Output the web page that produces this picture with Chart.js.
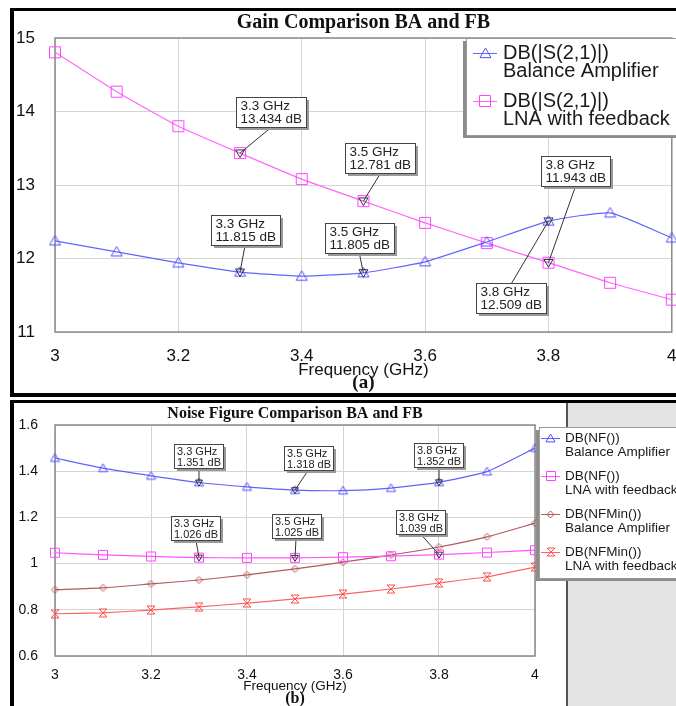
<!DOCTYPE html>
<html lang="en">
<head>
<meta charset="UTF-8">
<title>Gain and Noise Figure Comparison BA and FB</title>
<style>
    body { margin: 0; background: #fff; }
    #page { position: relative; width: 676px; height: 706px; overflow: hidden; background: #fff; }
    canvas { position: absolute; left: 0; }
    #gainChart { top: 0; }
    #nfChart { top: 400px; }
    .frame { position: absolute; border: 0 solid #000; pointer-events: none; }
    #frameA { left: 10px; top: 8px; width: 700px; height: 382px; border-width: 3px 0 4px 4px; }
    #frameB { left: 10px; top: 400px; width: 700px; height: 320px; border-width: 3px 0 0 4px; }
</style>
<script src="https://cdn.jsdelivr.net/npm/chart.js"></script>
</head>
<body>
<div id="page">
    <canvas id="gainChart" width="676" height="398"></canvas>
    <canvas id="nfChart" width="676" height="306"></canvas>
    <div class="frame" id="frameA"></div>
    <div class="frame" id="frameB"></div>
</div>
<script>
// values
const freqs = [3.0, 3.1, 3.2, 3.3, 3.4, 3.5, 3.6, 3.7, 3.8, 3.9, 4.0];
const xTicks = [3, 3.2, 3.4, 3.6, 3.8, 4];

const gainTicks = [11, 12, 13, 14, 15];
const gainBA = [12.24, 12.09, 11.94, 11.815, 11.76, 11.805, 11.955, 12.225, 12.509, 12.62, 12.28];
const gainFB = [14.805, 14.27, 13.80, 13.434, 13.08, 12.781, 12.485, 12.21, 11.943, 11.67, 11.44];
const gainNames = [['DB(|S(2,1)|)', 'Balance Amplifier'], ['DB(|S(2,1)|)', 'LNA with feedback']];

const nfTicks = [0.6, 0.8, 1, 1.2, 1.4, 1.6];
const nfBA = [1.457, 1.413, 1.380, 1.351, 1.332, 1.318, 1.316, 1.327, 1.352, 1.398, 1.500];
const nfFB = [1.047, 1.038, 1.031, 1.026, 1.025, 1.025, 1.028, 1.032, 1.039, 1.048, 1.058];
const nfminBA = [0.887, 0.895, 0.912, 0.929, 0.951, 0.977, 1.006, 1.037, 1.072, 1.116, 1.175];
const nfminFB = [0.783, 0.787, 0.799, 0.813, 0.829, 0.847, 0.868, 0.890, 0.916, 0.943, 0.985];
const nfNames = [['DB(NF())', 'Balance Amplifier'], ['DB(NF())', 'LNA with feedback'],
                 ['DB(NFMin())', 'Balance Amplifier'], ['DB(NFMin())', 'LNA with feedback']];

// marker callouts: dataset, point index, box offset from the point
const gainNotes = [
    { ds: 1, i: 3, dx: 31, dy: -41 }, { ds: 1, i: 5, dx: 17, dy: -43 }, { ds: 1, i: 8, dx: 27, dy: -92 },
    { ds: 0, i: 3, dx: 5, dy: -42 }, { ds: 0, i: 5, dx: -4, dy: -35 }, { ds: 0, i: 8, dx: -37, dy: 77 }
];
const nfNotes = [
    { ds: 0, i: 3, dx: 0, dy: -27 }, { ds: 0, i: 5, dx: 13, dy: -32 }, { ds: 0, i: 8, dx: 0, dy: -27 },
    { ds: 1, i: 3, dx: -3, dy: -30 }, { ds: 1, i: 5, dx: 1, dy: -32 }, { ds: 1, i: 8, dx: -18, dy: -33 }
];

const SANS = '"Liberation Sans", Arial, sans-serif';
const SERIF = '"Liberation Serif", "Times New Roman", serif';
Chart.defaults.font.family = SANS;

// hollow marker symbols as little canvases
function marker(type, color, size) {
    const c = document.createElement('canvas');
    const s = Math.ceil(size) + 2;
    c.width = s; c.height = s;
    const g = c.getContext('2d');
    const m = s / 2, r = size / 2;
    g.strokeStyle = color;
    g.lineWidth = 1;
    g.beginPath();
    if (type === 'tri') {
        g.moveTo(m, m - r); g.lineTo(m + r, m + r * 0.75); g.lineTo(m - r, m + r * 0.75); g.closePath();
    } else if (type === 'sq') {
        g.rect(m - r + 0.5, m - r + 0.5, size - 1, size - 1);
    } else if (type === 'dia') {
        g.moveTo(m, m - r); g.lineTo(m + r, m); g.lineTo(m, m + r); g.lineTo(m - r, m); g.closePath();
    } else {
        g.moveTo(m - r, m - r); g.lineTo(m + r, m - r); g.lineTo(m - r, m + r); g.lineTo(m + r, m + r); g.closePath();
    }
    g.stroke();
    return c;
}

function series(label, arr, color, img) {
    return {
        label: label,
        data: freqs.map((f, i) => ({ x: f, y: arr[i] })),
        borderColor: color,
        borderWidth: 1.2,
        pointStyle: img,
        pointRadius: 3,
        pointHoverRadius: 3,
        tension: 0.15,
        clip: false,
        fill: false
    };
}

const panelBg = {
    id: 'panelBg',
    beforeDraw(chart, args, o) {
        const ctx = chart.ctx;
        ctx.save();
        ctx.fillStyle = '#fff';
        ctx.fillRect(0, 0, chart.width, chart.height);
        if (o.grayFrom) {
            ctx.fillStyle = '#e4e4e4';
            ctx.fillRect(o.grayFrom, 3, chart.width - o.grayFrom, chart.height);
            ctx.fillStyle = '#555';
            ctx.fillRect(o.grayFrom - 2, 3, 2, chart.height);
        }
        ctx.restore();
    }
};

const plotBox = {
    id: 'plotBox',
    beforeDatasetsDraw(chart) {
        const { ctx, chartArea: a } = chart;
        ctx.save();
        ctx.strokeStyle = '#8a8a8a';
        ctx.lineWidth = 1.5;
        ctx.strokeRect(a.left, a.top, a.right - a.left, a.bottom - a.top);
        ctx.restore();
    }
};

const notes = {
    id: 'notes',
    afterDatasetsDraw(chart, args, o) {
        const ctx = chart.ctx;
        const xs = chart.scales.x, ys = chart.scales.y;
        ctx.save();
        ctx.font = o.font + 'px ' + SANS;
        o.list.forEach(n => {
            const p = chart.data.datasets[n.ds].data[n.i];
            const px = xs.getPixelForValue(p.x), py = ys.getPixelForValue(p.y);
            const l1 = p.x.toFixed(1) + ' GHz', l2 = p.y.toFixed(3) + ' dB';
            const w = Math.round(Math.max(ctx.measureText(l1).width, ctx.measureText(l2).width) + 2 * o.padX);
            const h = Math.round(2 * o.lineH + 2 * o.padY);
            const bx = Math.round(px + n.dx - w / 2) + 0.5, by = Math.round(py + n.dy - h / 2) + 0.5;
            // leader line
            ctx.strokeStyle = '#333';
            ctx.lineWidth = 1;
            ctx.beginPath();
            ctx.moveTo(px + n.dx, n.dy < 0 ? by + h : by);
            ctx.lineTo(px, py);
            ctx.stroke();
            // marker
            const t = o.mark;
            ctx.beginPath();
            ctx.moveTo(px - t, py - t * 0.7);
            ctx.lineTo(px + t, py - t * 0.7);
            ctx.lineTo(px, py + t);
            ctx.closePath();
            ctx.stroke();
            // box with shadow
            ctx.fillStyle = '#9a9a9a';
            ctx.fillRect(bx + 2.5, by + 2.5, w, h);
            ctx.fillStyle = '#fff';
            ctx.fillRect(bx, by, w, h);
            ctx.strokeStyle = '#444';
            ctx.strokeRect(bx, by, w, h);
            ctx.fillStyle = '#222';
            ctx.textBaseline = 'middle';
            ctx.textAlign = 'left';
            ctx.fillText(l1, bx + o.padX, by + o.padY + o.lineH / 2 + 0.5);
            ctx.fillText(l2, bx + o.padX, by + o.padY + o.lineH * 1.5 + 0.5);
        });
        ctx.restore();
    }
};

const legendBox = {
    id: 'legendBox',
    afterDraw(chart, args, o) {
        const ctx = chart.ctx;
        ctx.save();
        ctx.fillStyle = '#8c8c8c';
        ctx.fillRect(o.x - 3, o.y + 3, o.w, o.h);
        ctx.fillStyle = '#fff';
        ctx.fillRect(o.x, o.y, o.w, o.h);
        ctx.strokeStyle = '#9a9a9a';
        ctx.lineWidth = 1;
        ctx.strokeRect(o.x + 0.5, o.y + 0.5, o.w, o.h);
        ctx.font = o.font + 'px ' + SANS;
        ctx.textBaseline = 'middle';
        ctx.textAlign = 'left';
        chart.data.datasets.forEach((d, k) => {
            const y = o.y + o.first + k * o.rowH;
            ctx.strokeStyle = d.borderColor;
            ctx.beginPath();
            ctx.moveTo(o.x0, Math.round(y) + 0.5);
            ctx.lineTo(o.x1, Math.round(y) + 0.5);
            ctx.stroke();
            const img = d.pointStyle;
            ctx.drawImage(img, Math.round((o.x0 + o.x1) / 2 - img.width / 2), Math.round(y - img.height / 2));
            ctx.fillStyle = '#1a1a1a';
            ctx.fillText(o.names[k][0], o.tx, y);
            ctx.fillText(o.names[k][1], o.tx, y + o.lineH);
        });
        ctx.restore();
    }
};

const labels = {
    id: 'labels',
    afterDraw(chart, args, o) {
        const { ctx, chartArea: a } = chart;
        const cx = (a.left + a.right) / 2;
        ctx.save();
        ctx.fillStyle = '#111';
        ctx.textAlign = 'center';
        ctx.textBaseline = 'middle';
        ctx.font = 'bold ' + o.titleSize + 'px ' + SERIF;
        ctx.fillText(o.title, cx, o.titleY);
        ctx.font = o.axisSize + 'px ' + SANS;
        ctx.fillText('Frequency (GHz)', cx, o.axisY);
        ctx.font = 'bold ' + o.tagSize + 'px ' + SERIF;
        ctx.fillText(o.tag, cx, o.tagY);
        ctx.restore();
    }
};

function scalesFor(yTicks, yMin, yMax, fontSize, xHeight, xPad, yPad) {
    return {
        x: {
            type: 'linear', min: 3, max: 4,
            afterBuildTicks: s => { s.ticks = xTicks.map(v => ({ value: v })); },
            afterFit: s => { s.height = xHeight; s.paddingLeft = 0; s.paddingRight = 0; },
            grid: { color: '#d4d4d4', drawTicks: false },
            border: { display: false },
            ticks: { padding: xPad, color: '#111', font: { size: fontSize }, maxRotation: 0, autoSkip: false, callback: v => String(v) }
        },
        y: {
            min: yMin, max: yMax,
            afterBuildTicks: s => { s.ticks = yTicks.map(v => ({ value: v })); },
            afterFit: s => { s.width = 55; s.paddingTop = 0; s.paddingBottom = 0; },
            grid: { color: '#d4d4d4', drawTicks: false },
            border: { display: false },
            ticks: { padding: yPad, color: '#111', font: { size: fontSize }, autoSkip: false, callback: v => String(v) }
        }
    };
}

// (a) gain
const gainChart = new Chart(document.getElementById('gainChart'), {
    type: 'line',
    data: {
        datasets: [
            series(gainNames[0].join(' '), gainBA, '#6464ff', marker('tri', '#5050ff', 11)),
            series(gainNames[1].join(' '), gainFB, '#ff66ff', marker('sq', '#ff44ff', 12))
        ]
    },
    options: {
        responsive: false,
        animation: false,
        events: [],
        layout: { padding: { top: 38, left: 0, right: 1, bottom: 0 } },
        scales: scalesFor(gainTicks, 11, 15, 17, 66, 14, 20),
        plugins: {
            legend: { display: false },
            tooltip: { enabled: false },
            panelBg: {},
            notes: { list: gainNotes, font: 13.5, lineH: 13, padX: 4, padY: 2, mark: 4.5 },
            legendBox: { x: 466, y: 38, w: 240, h: 97, first: 15, rowH: 48, lineH: 18.5,
                         x0: 473, x1: 497, tx: 503, font: 20, names: gainNames },
            labels: { title: 'Gain Comparison BA and FB', titleY: 23, titleSize: 20,
                      axisY: 370, axisSize: 17, tag: '(a)', tagY: 383, tagSize: 19 }
        }
    },
    plugins: [panelBg, plotBox, notes, legendBox, labels]
});

// (b) noise figure
const nfChart = new Chart(document.getElementById('nfChart'), {
    type: 'line',
    data: {
        datasets: [
            series(nfNames[0].join(' '), nfBA, '#6060ff', marker('tri', '#5050ff', 9)),
            series(nfNames[1].join(' '), nfFB, '#ff55ff', marker('sq', '#ff44ff', 10)),
            series(nfNames[2].join(' '), nfminBA, '#b05a5a', marker('dia', '#b05050', 7)),
            series(nfNames[3].join(' '), nfminFB, '#ff6464', marker('hour', '#ff4a4a', 8))
        ]
    },
    options: {
        responsive: false,
        animation: false,
        events: [],
        layout: { padding: { top: 25, left: 0, right: 141, bottom: 0 } },
        scales: scalesFor(nfTicks, 0.6, 1.6, 14, 50, 11, 17),
        plugins: {
            legend: { display: false },
            tooltip: { enabled: false },
            panelBg: { grayFrom: 568 },
            notes: { list: nfNotes, font: 11, lineH: 11, padX: 2.5, padY: 1, mark: 3.5 },
            legendBox: { x: 539, y: 27, w: 200, h: 151, first: 11, rowH: 38, lineH: 14.5,
                         x0: 541, x1: 560, tx: 565, font: 13.5, names: nfNames },
            labels: { title: 'Noise Figure Comparison BA and FB', titleY: 14, titleSize: 16,
                      axisY: 286, axisSize: 13.5, tag: '(b)', tagY: 299, tagSize: 16 }
        }
    },
    plugins: [panelBg, plotBox, notes, legendBox, labels]
});
</script>
</body>
</html>
